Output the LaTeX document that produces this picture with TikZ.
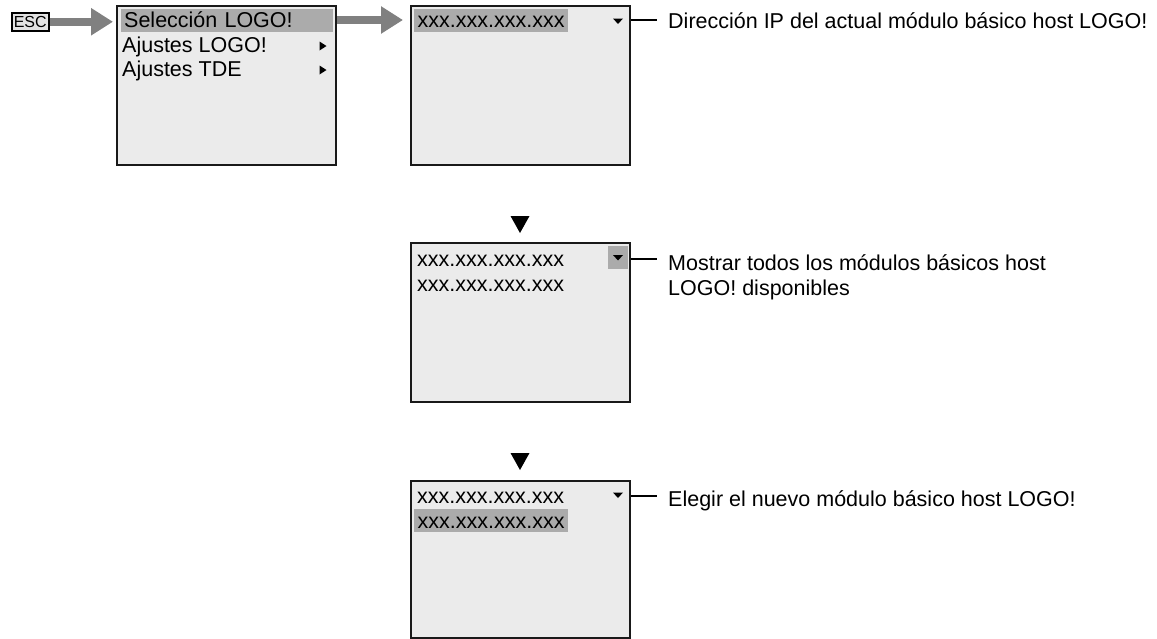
\documentclass[tikz,border=0pt]{standalone}
\usepackage{fontspec}
\setmainfont{Liberation Sans}
\usepackage{xcolor}
\usetikzlibrary{arrows.meta, positioning}
\definecolor{scrgray}{HTML}{EBEBEB}
\definecolor{selgray}{HTML}{ABABAB}
\definecolor{arrgray}{HTML}{808080}
\definecolor{escgray}{HTML}{E2E2E2}
\newcommand{\scrfont}{\fontsize{21.5}{25}\selectfont}

\begin{document}
\begin{tikzpicture}[x=1pt, y=-1pt, screen/.style={draw=black!90, line width=2pt, fill=scrgray, minimum width=219pt, minimum height=159pt, anchor=north west, inner sep=0pt}, row/.style={anchor=base west, inner xsep=3pt, inner ysep=0pt, text height=19pt, text depth=4pt, font=\scrfont}, sel/.style={row, fill=selgray}, note/.style={anchor=base west, inner sep=0pt, font=\scrfont}, bigarrow/.style={draw=arrgray, line width=8.5pt, -{Triangle[length=22pt, width=26pt]}}, callout/.style={line width=1.4pt}]
  \useasboundingbox (0,0) rectangle (1157,638);

  \node[draw, line width=1.5pt, fill=escgray, anchor=north west, minimum width=37pt, minimum height=18pt, inner sep=0pt, font=\fontsize{16}{16}\selectfont] (esc) at (11,12) {ESC};

  \node[screen] (scr1) at (116,5) {};
  \node[screen] (scr2) at (410,5) {};
  \node[screen] (scr3) at (410,242) {};
  \node[screen, minimum height=157pt] (scr4) at (410,480) {};

  \node[sel, minimum width=212pt, text width=206pt] (sel1) at (121,27.5) {Selección LOGO!};
  \node[row] (ajlogo) at (119,52) {Ajustes LOGO!};
  \node[row] (ajtde) at (119,76.5) {Ajustes TDE};
  \foreach \y in {41.5,65.5}
    \fill (319.5,\y) -- ++(0,9) -- ++(7,-4.5) -- cycle;

  \node[sel, minimum width=154pt] (ip1) at (414,27.5) {xxx.xxx.xxx.xxx};
  \node[row] (ip2a) at (414,266) {xxx.xxx.xxx.xxx};
  \node[row] (ip2b) at (414,291) {xxx.xxx.xxx.xxx};
  \node[row] (ip3a) at (414,503) {xxx.xxx.xxx.xxx};
  \node[sel, minimum width=154pt] (ip3b) at (414,528) {xxx.xxx.xxx.xxx};

  \node[fill=selgray, anchor=north west, minimum width=20pt, minimum height=23pt, inner sep=0pt] (scroll) at (608,246) {};
  \foreach \y in {18.5,255,492.5}
    \fill (613,\y) -- ++(10,0) -- ++(-5,5.5) -- cycle;

  \fill (510.5,216) -- ++(19,0) -- ++(-9.5,17) -- cycle;
  \fill (510.5,453) -- ++(19,0) -- ++(-9.5,17) -- cycle;

  \draw[bigarrow, shorten >=3pt] (esc.east) -- (esc.east -| scr1.west);
  \draw[bigarrow, shorten >=7pt] (scr1.east |- sel1.center) -- (sel1.center -| scr2.west);

  \node[note] (lbl1) at (668,28) {Dirección IP del actual módulo básico host LOGO!};
  \node[note] (lbl2) at (668,270) {Mostrar todos los módulos básicos host};
  \node[note] (lbl2b) at (668,295) {LOGO! disponibles};
  \node[note] (lbl3) at (668,506) {Elegir el nuevo módulo básico host LOGO!};

  \coordinate (c1) at (657,20);
  \coordinate (c2) at (657,259);
  \coordinate (c3) at (657,496);
  \draw[callout] (c1 -| scr2.east) -- (c1);
  \draw[callout] (c2 -| scr3.east) -- (c2);
  \draw[callout] (c3 -| scr4.east) -- (c3);
\end{tikzpicture}
\end{document}
